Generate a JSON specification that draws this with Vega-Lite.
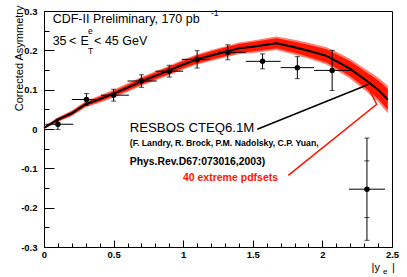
{
  "$schema": "https://vega.github.io/schema/vega-lite/v6.json",
  "width": 348,
  "height": 236,
  "autosize": "none",
  "padding": {"left": 44, "top": 11, "right": 15, "bottom": 30},
  "background": "white",
  "config": {
    "view": {"stroke": "black", "strokeWidth": 1},
    "font": "Liberation Sans"
  },
  "datasets": {
    "theory": [
      {"x": 0, "y": 0.003, "lo": 0.001, "hi": 0.005, "lo2": 0.0, "hi2": 0.006},
      {"x": 0.1, "y": 0.024, "lo": 0.02, "hi": 0.028, "lo2": 0.018, "hi2": 0.03},
      {"x": 0.2, "y": 0.04, "lo": 0.035, "hi": 0.045, "lo2": 0.033, "hi2": 0.047},
      {"x": 0.3, "y": 0.063, "lo": 0.058, "hi": 0.068, "lo2": 0.055, "hi2": 0.071},
      {"x": 0.4, "y": 0.076, "lo": 0.07, "hi": 0.082, "lo2": 0.067, "hi2": 0.085},
      {"x": 0.5, "y": 0.09, "lo": 0.084, "hi": 0.096, "lo2": 0.08, "hi2": 0.1},
      {"x": 0.6, "y": 0.105, "lo": 0.098, "hi": 0.112, "lo2": 0.094, "hi2": 0.116},
      {"x": 0.7, "y": 0.121, "lo": 0.113, "hi": 0.129, "lo2": 0.11, "hi2": 0.132},
      {"x": 0.8, "y": 0.135, "lo": 0.127, "hi": 0.143, "lo2": 0.123, "hi2": 0.147},
      {"x": 0.9, "y": 0.149, "lo": 0.14, "hi": 0.158, "lo2": 0.137, "hi2": 0.161},
      {"x": 1.0, "y": 0.164, "lo": 0.155, "hi": 0.173, "lo2": 0.151, "hi2": 0.177},
      {"x": 1.1, "y": 0.177, "lo": 0.167, "hi": 0.187, "lo2": 0.164, "hi2": 0.19},
      {"x": 1.2, "y": 0.187, "lo": 0.177, "hi": 0.197, "lo2": 0.173, "hi2": 0.201},
      {"x": 1.3, "y": 0.196, "lo": 0.185, "hi": 0.207, "lo2": 0.182, "hi2": 0.21},
      {"x": 1.4, "y": 0.205, "lo": 0.194, "hi": 0.216, "lo2": 0.19, "hi2": 0.22},
      {"x": 1.5, "y": 0.209, "lo": 0.197, "hi": 0.221, "lo2": 0.193, "hi2": 0.225},
      {"x": 1.67, "y": 0.218, "lo": 0.205, "hi": 0.231, "lo2": 0.201, "hi2": 0.235},
      {"x": 1.8, "y": 0.208, "lo": 0.194, "hi": 0.222, "lo2": 0.189, "hi2": 0.227},
      {"x": 1.9, "y": 0.199, "lo": 0.184, "hi": 0.214, "lo2": 0.179, "hi2": 0.219},
      {"x": 2.03, "y": 0.186, "lo": 0.169, "hi": 0.203, "lo2": 0.164, "hi2": 0.208},
      {"x": 2.13, "y": 0.167, "lo": 0.149, "hi": 0.185, "lo2": 0.143, "hi2": 0.191},
      {"x": 2.2, "y": 0.153, "lo": 0.134, "hi": 0.172, "lo2": 0.128, "hi2": 0.178},
      {"x": 2.32, "y": 0.122, "lo": 0.101, "hi": 0.143, "lo2": 0.094, "hi2": 0.15},
      {"x": 2.4, "y": 0.1, "lo": 0.076, "hi": 0.124, "lo2": 0.069, "hi2": 0.131},
      {"x": 2.47, "y": 0.075, "lo": 0.048, "hi": 0.102, "lo2": 0.04, "hi2": 0.11}
    ],
    "pts": [
      {"x": 0.1, "xlo": 0.01, "xhi": 0.21, "y": 0.012, "ylo": -0.001, "yhi": 0.025, "slo": null, "shi": null},
      {"x": 0.305, "xlo": 0.2, "xhi": 0.41, "y": 0.075, "ylo": 0.06, "yhi": 0.09, "slo": null, "shi": null},
      {"x": 0.5, "xlo": 0.41, "xhi": 0.61, "y": 0.086, "ylo": 0.071, "yhi": 0.101, "slo": null, "shi": null},
      {"x": 0.7, "xlo": 0.6, "xhi": 0.81, "y": 0.122, "ylo": 0.106, "yhi": 0.138, "slo": null, "shi": null},
      {"x": 0.9, "xlo": 0.8, "xhi": 1.0, "y": 0.147, "ylo": 0.132, "yhi": 0.162, "slo": null, "shi": null},
      {"x": 1.1, "xlo": 0.99, "xhi": 1.19, "y": 0.177, "ylo": 0.155, "yhi": 0.199, "slo": null, "shi": null},
      {"x": 1.32, "xlo": 1.25, "xhi": 1.45, "y": 0.195, "ylo": 0.176, "yhi": 0.214, "slo": null, "shi": null},
      {"x": 1.57, "xlo": 1.45, "xhi": 1.7, "y": 0.172, "ylo": 0.153, "yhi": 0.191, "slo": null, "shi": null},
      {"x": 1.82, "xlo": 1.7, "xhi": 1.94, "y": 0.156, "ylo": 0.128, "yhi": 0.184, "slo": null, "shi": null},
      {"x": 2.07, "xlo": 1.94, "xhi": 2.2, "y": 0.149, "ylo": 0.098, "yhi": 0.2, "slo": null, "shi": null},
      {"x": 2.32, "xlo": 2.19, "xhi": 2.45, "y": -0.153, "ylo": -0.283, "yhi": -0.023, "slo": -0.225, "shi": -0.081}
    ]
  },
  "resolve": {"axis": {"x": "independent", "y": "independent"}},
  "layer": [
    {
      "layer": [
        {
          "data": {"name": "theory"},
          "mark": {"type": "area", "color": "#ff7060", "opacity": 0.9},
          "encoding": {
            "x": {"field": "x", "type": "quantitative",
              "scale": {"domain": [0, 2.5], "nice": false, "zero": false},
              "axis": {
                "values": [0, 0.5, 1, 1.5, 2, 2.5], "tickCount": 100,
                "domain": false, "grid": false, "title": null, "orient": "bottom",
                "tickColor": "black", "tickSize": -7,
                "labelExpr": "format(datum.value, '~g')",
                "labelFlush": false, "labelOverlap": false, "labelBound": false,
                "labelFont": "Liberation Sans", "labelFontWeight": "bold",
                "labelFontSize": 9.5, "labelColor": "black", "labelPadding": 9
              }},
            "y": {"field": "lo2", "type": "quantitative",
              "scale": {"domain": [-0.3, 0.3], "nice": false, "zero": false},
              "axis": {
                "values": [-0.3, -0.2, -0.1, 0, 0.1, 0.2, 0.3], "tickCount": 100,
                "domain": false, "grid": false, "orient": "left",
                "tickColor": "black", "tickSize": -10,
                "labelExpr": "datum.value < -0.000001 ? '-' + format(-datum.value, '.1~f') : format(datum.value, '.1~f')",
                "labelFlush": false, "labelOverlap": false, "labelBound": false,
                "labelFont": "Liberation Sans", "labelFontWeight": "bold",
                "labelFontSize": 9.5, "labelColor": "black", "labelPadding": 17,
                "title": "Corrected Asymmetry", "titleFont": "Liberation Sans", "titleFontWeight": "normal",
                "titleFontSize": 11, "titleColor": "black", "titleAngle": -90, "titleAlign": "right",
                "titleBaseline": "middle", "titleX": -25, "titleY": -6
              }},
            "y2": {"field": "hi2"}
          }
        },
        {
          "data": {"name": "theory"},
          "mark": {"type": "area", "color": "#ff1500"},
          "encoding": {
            "x": {"field": "x", "type": "quantitative"},
            "y": {"field": "lo", "type": "quantitative"},
            "y2": {"field": "hi"}
          }
        },
        {
          "data": {"name": "theory"},
          "mark": {"type": "line", "color": "black", "strokeWidth": 2},
          "encoding": {
            "x": {"field": "x", "type": "quantitative"},
            "y": {"field": "y", "type": "quantitative"}
          }
        },
        {
          "data": {"values": [{"x": 1.532, "y": -0.0005, "o": 1}, {"x": 2.33, "y": 0.113, "o": 2}]},
          "mark": {"type": "line", "color": "black", "strokeWidth": 1.5},
          "encoding": {
            "x": {"field": "x", "type": "quantitative"},
            "y": {"field": "y", "type": "quantitative"},
            "order": {"field": "o"}
          }
        },
        {
          "data": {"values": [{"x": 1.755, "y": -0.118, "o": 1}, {"x": 2.39, "y": 0.063, "o": 2}, {"x": 2.33, "y": 0.104, "o": 3}]},
          "mark": {"type": "line", "color": "#ff1500", "strokeWidth": 1.5},
          "encoding": {
            "x": {"field": "x", "type": "quantitative"},
            "y": {"field": "y", "type": "quantitative"},
            "order": {"field": "o"}
          }
        },
        {
          "data": {"name": "pts"},
          "mark": {"type": "rule", "color": "black", "strokeWidth": 1},
          "encoding": {
            "x": {"field": "xlo", "type": "quantitative"},
            "x2": {"field": "xhi"},
            "y": {"field": "y", "type": "quantitative"}
          }
        },
        {
          "data": {"name": "pts"},
          "mark": {"type": "rule", "color": "black", "strokeWidth": 1},
          "encoding": {
            "x": {"field": "x", "type": "quantitative"},
            "y": {"field": "ylo", "type": "quantitative"},
            "y2": {"field": "yhi"}
          }
        },
        {
          "data": {"name": "pts"},
          "transform": [
            {"fold": ["ylo", "yhi", "slo", "shi"], "as": ["k", "v"]},
            {"filter": "datum.v != null"}
          ],
          "mark": {"type": "tick", "orient": "horizontal", "color": "black", "size": 5, "thickness": 1},
          "encoding": {
            "x": {"field": "x", "type": "quantitative"},
            "y": {"field": "v", "type": "quantitative"}
          }
        },
        {
          "data": {"name": "pts"},
          "mark": {"type": "point", "filled": true, "color": "black", "size": 30, "opacity": 1, "shape": "circle"},
          "encoding": {
            "x": {"field": "x", "type": "quantitative"},
            "y": {"field": "y", "type": "quantitative"}
          }
        },
        {
          "data": {"values": [{"x": 0.062, "y": 0.269, "t": "CDF-II Preliminary, 170 pb"}, {"x": 0.062, "y": 0.213, "t": "35"}, {"x": 0.18, "y": 0.213, "t": "<"}, {"x": 0.262, "y": 0.213, "t": "E"}, {"x": 0.36, "y": 0.213, "t": "< 45 GeV"}]},
          "mark": {"type": "text", "align": "left", "baseline": "alphabetic", "fontSize": 12.5, "font": "Liberation Sans", "color": "black"},
          "encoding": {
            "x": {"field": "x", "type": "quantitative"},
            "y": {"field": "y", "type": "quantitative"},
            "text": {"field": "t"}
          }
        },
        {
          "data": {"values": [{"x": 1.2, "y": 0.287, "t": "-1"}, {"x": 0.316, "y": 0.19, "t": "T"}, {"x": 0.316, "y": 0.241, "t": "e"}]},
          "mark": {"type": "text", "align": "left", "baseline": "alphabetic", "fontSize": 8.5, "font": "Liberation Sans", "color": "black"},
          "encoding": {
            "x": {"field": "x", "type": "quantitative"},
            "y": {"field": "y", "type": "quantitative"},
            "text": {"field": "t"}
          }
        },
        {
          "data": {"values": [{"x": 0.616, "y": -0.007, "t": "RESBOS CTEQ6.1M"}]},
          "mark": {"type": "text", "align": "left", "baseline": "alphabetic", "fontSize": 13.2, "font": "Liberation Sans", "color": "black"},
          "encoding": {
            "x": {"field": "x", "type": "quantitative"},
            "y": {"field": "y", "type": "quantitative"},
            "text": {"field": "t"}
          }
        },
        {
          "data": {"values": [{"x": 0.616, "y": -0.044, "t": "(F. Landry, R. Brock, P.M. Nadolsky, C.P. Yuan,"}]},
          "mark": {"type": "text", "align": "left", "baseline": "alphabetic", "fontSize": 8.7, "fontWeight": "bold", "font": "Liberation Sans", "color": "black"},
          "encoding": {
            "x": {"field": "x", "type": "quantitative"},
            "y": {"field": "y", "type": "quantitative"},
            "text": {"field": "t"}
          }
        },
        {
          "data": {"values": [{"x": 0.616, "y": -0.092, "t": "Phys.Rev.D67:073016,2003)"}]},
          "mark": {"type": "text", "align": "left", "baseline": "alphabetic", "fontSize": 10.4, "fontWeight": "bold", "font": "Liberation Sans", "color": "black"},
          "encoding": {
            "x": {"field": "x", "type": "quantitative"},
            "y": {"field": "y", "type": "quantitative"},
            "text": {"field": "t"}
          }
        },
        {
          "data": {"values": [{"x": 0.998, "y": -0.132, "t": "40 extreme pdfsets"}]},
          "mark": {"type": "text", "align": "left", "baseline": "alphabetic", "fontSize": 10.5, "fontWeight": "bold", "font": "Liberation Sans", "color": "#ff1500"},
          "encoding": {
            "x": {"field": "x", "type": "quantitative"},
            "y": {"field": "y", "type": "quantitative"},
            "text": {"field": "t"}
          }
        },
        {
          "data": {"values": [{"x": 2.353, "y": -0.361, "t": "|y"}, {"x": 2.5, "y": -0.361, "t": "|"}]},
          "mark": {"type": "text", "align": "left", "baseline": "alphabetic", "fontSize": 11, "font": "Liberation Sans", "color": "black"},
          "encoding": {
            "x": {"field": "x", "type": "quantitative"},
            "y": {"field": "y", "type": "quantitative"},
            "text": {"field": "t"}
          }
        },
        {
          "data": {"values": [{"x": 2.435, "y": -0.368, "t": "e"}]},
          "mark": {"type": "text", "align": "left", "baseline": "alphabetic", "fontSize": 8, "font": "Liberation Sans", "color": "black"},
          "encoding": {
            "x": {"field": "x", "type": "quantitative"},
            "y": {"field": "y", "type": "quantitative"},
            "text": {"field": "t"}
          }
        }
      ]
    },
    {
      "data": {"name": "theory"},
      "mark": {"type": "point", "opacity": 0},
      "encoding": {
        "x": {"field": "x", "type": "quantitative",
          "axis": {
            "orient": "bottom", "tickCount": 100,
            "values": [0.1, 0.2, 0.3, 0.4, 0.6, 0.7, 0.8, 0.9, 1.1, 1.2, 1.3, 1.4, 1.6, 1.7, 1.8, 1.9, 2.1, 2.2, 2.3, 2.4],
            "domain": false, "grid": false, "title": null, "labels": false,
            "tickColor": "black", "tickSize": -4
          }},
        "y": {"field": "y", "type": "quantitative",
          "axis": {
            "orient": "left", "tickCount": 100,
            "values": [-0.25, -0.15, -0.05, 0.05, 0.15, 0.25],
            "domain": false, "grid": false, "title": null, "labels": false,
            "tickColor": "black", "tickSize": -5
          }}
      }
    }
  ]
}
